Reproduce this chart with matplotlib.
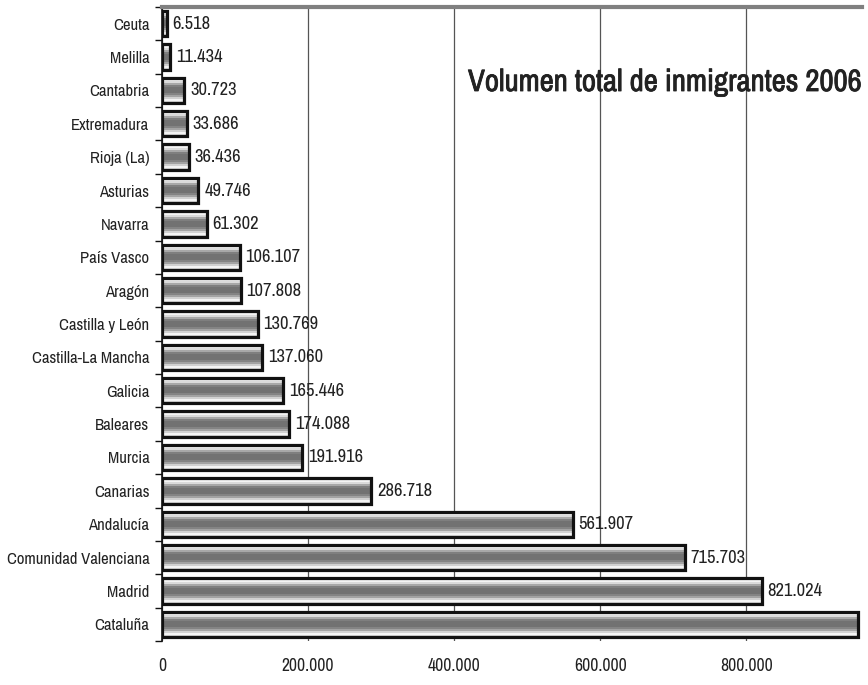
import numpy as np
import matplotlib
matplotlib.use('Agg')
import matplotlib.pyplot as plt
import matplotlib.patheffects as pe
from matplotlib import font_manager as fm
from matplotlib.colors import ListedColormap

regiones = ['Ceuta', 'Melilla', 'Cantabria', 'Extremadura', 'Rioja (La)', 'Asturias',
            'Navarra', 'País Vasco', 'Aragón', 'Castilla y León', 'Castilla-La Mancha',
            'Galicia', 'Baleares', 'Murcia', 'Canarias', 'Andalucía',
            'Comunidad Valenciana', 'Madrid', 'Cataluña']
inmigrantes = [6518, 11434, 30723, 33686, 36436, 49746, 61302, 106107, 107808, 130769,
               137060, 165446, 174088, 191916, 286718, 561907, 715703, 821024, 953000]
xticks = [0, 200000, 400000, 600000, 800000]
titulo = 'Volumen total de inmigrantes 2006'

# buscar una fuente estrecha
narrow = sorted({f.name for f in fm.fontManager.ttflist
                 if 'Narrow' in f.name or 'Condensed' in f.name})
if narrow:
    fam, k = narrow[0], 1.15
else:
    fam, k = 'Liberation Sans', 1.0
plt.rcParams['font.family'] = [fam, 'DejaVu Sans']

def miles(v):
    return f'{v:,}'.replace(',', '.')

# bandas de gris del relleno (de arriba a abajo)
bandas = [0.80, 0.96, 0.86, 0.66, 0.50, 0.45, 0.45, 0.45, 0.52, 0.64, 0.82, 0.96, 0.84]
cmap_bandas = ListedColormap([(g, g, g) for g in bandas])

fig = plt.figure(figsize=(8.68, 6.85), dpi=100)
ax = fig.add_axes([162/868, 1 - 641/685, 1 - 162/868 - 0.007, (641 - 7)/685])

xmax = 958000
y = np.arange(len(regiones))
alto = 0.76
bars = ax.barh(y, inmigrantes, height=alto, color='none', edgecolor='#111111',
               linewidth=2.3, zorder=3)
grad = np.arange(len(bandas)).reshape(-1, 1)
for b in bars:
    x0, y0 = b.get_x(), b.get_y()
    w, h = b.get_width(), b.get_height()
    im = ax.imshow(grad, cmap=cmap_bandas, aspect='auto', interpolation='nearest',
                   extent=(x0, x0 + w, y0 + h, y0), zorder=2)
    im.set_clip_path(b)

for yi, v in zip(y, inmigrantes):
    if v + 12000 < xmax:
        ax.text(v + 8000, yi, miles(v), va='center', ha='left', fontsize=11.6 * k,
                color='#222222')

ax.set_xlim(0, xmax)
ax.set_ylim(len(regiones) - 0.5, -0.5)
ax.set_yticks(y)
ax.set_yticklabels(regiones, fontsize=10.4 * k, color='#222222')
ax.set_yticks(np.arange(-0.5, len(regiones), 1), minor=True)
ax.tick_params(axis='y', which='major', length=0, pad=9)
ax.tick_params(axis='y', which='minor', length=5, width=1, color='#111111')
ax.set_xticks(xticks)
ax.set_xticklabels([miles(t) for t in xticks], fontsize=11 * k, color='#222222')
ax.tick_params(axis='x', length=0, pad=12)
ax.grid(axis='x', color='#555555', linewidth=0.9, zorder=0)
ax.set_axisbelow(True)

ax.spines['bottom'].set_visible(False)
ax.spines['right'].set_visible(False)
ax.spines['left'].set_color('#111111')
ax.spines['left'].set_linewidth(1.2)
ax.spines['top'].set_color('#808080')
ax.spines['top'].set_linewidth(3)

t = fig.text(468/868, 1 - 82/685, titulo, fontsize=17 * k, fontweight='bold',
             color='#222222', ha='left', va='center',
             path_effects=[pe.withStroke(linewidth=0.6, foreground='#222222')])
# ajustar el tamaño del título para que llegue hasta el borde derecho
fig.canvas.draw()
ancho = t.get_window_extent().width
t.set_fontsize(t.get_fontsize() * 394 / ancho)

fig.savefig('out.png', dpi=100)
